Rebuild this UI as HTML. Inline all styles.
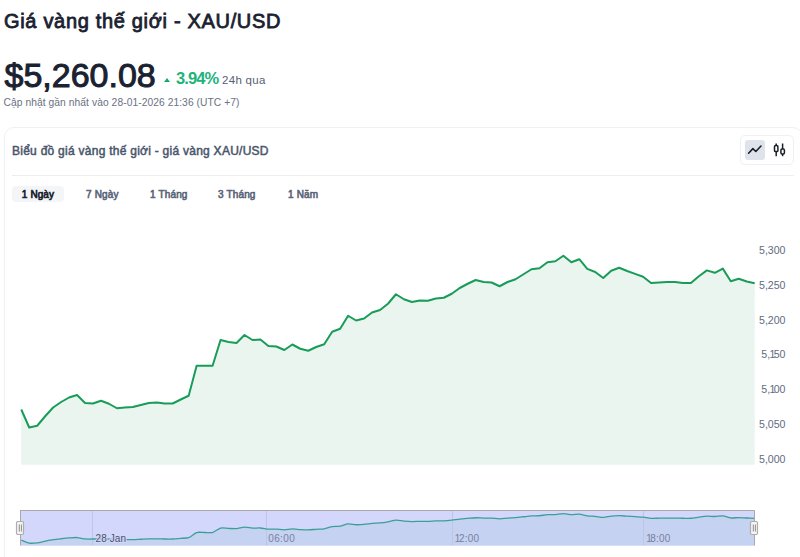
<!DOCTYPE html>
<html><head><meta charset="utf-8">
<style>
*{margin:0;padding:0;box-sizing:border-box}
html,body{width:800px;height:557px;overflow:hidden;background:#fff}
body{position:relative;font-family:"Liberation Sans",sans-serif;color:#1b2030}
.abs{position:absolute;white-space:nowrap}
#title{left:4px;top:9px;font-size:20px;letter-spacing:0.68px;-webkit-text-stroke:0.8px #1a2130;color:#1a2130;line-height:24px}
#price{left:4.5px;top:54.5px;font-size:34px;-webkit-text-stroke:1px #1a2130;color:#1a2130;line-height:40px}
#tri{left:163.6px;top:78.3px;width:0;height:0;border-left:3.8px solid transparent;border-right:3.8px solid transparent;border-bottom:4.5px solid #18a868}
#pct{left:176px;top:69px;font-size:16.5px;letter-spacing:-0.9px;font-weight:bold;color:#1db47c;line-height:18px}
#h24{left:222px;top:74.4px;font-size:11.5px;letter-spacing:0.3px;color:#566074;line-height:12px}
#upd{left:3.5px;top:96.5px;font-size:10.25px;letter-spacing:0.07px;color:#6a7282;line-height:12px}
#card{left:4px;top:127px;width:799px;height:460px;border:1px solid #eef0f4;border-radius:10px}
#ctitle{left:12px;top:143.5px;font-size:12px;letter-spacing:0.26px;-webkit-text-stroke:0.5px #4a566c;color:#4a566c;line-height:14px}
#sep{left:12px;top:175px;width:782px;height:1px;background:#eceef4}
#icons{left:740px;top:135px;width:54px;height:30px;border:1px solid #eef0f4;border-radius:5px}
#act{left:745px;top:139.5px;width:20px;height:20.5px;background:#dfe3ec;border-radius:3px}
.tab{position:absolute;top:186px;height:16px;font-size:10px;-webkit-text-stroke:0.6px #5a6478;letter-spacing:0.15px;line-height:18px;color:#5a6478;white-space:nowrap}
#t1{left:12px;width:52px;background:#f4f5f7;border-radius:4px;color:#1a2130;-webkit-text-stroke:0.7px #1a2130;text-align:center;letter-spacing:0.1px}
.ylab{position:absolute;right:14.5px;text-align:right;font-size:10.6px;color:#616c82;line-height:12px}
.xlab{position:absolute;top:532px;font-size:10.5px;color:#7b809e;line-height:12px}
</style></head><body>
<div id="title" class="abs">Giá vàng thế giới - XAU/USD</div>
<div id="price" class="abs">$5,260.08</div>
<div id="tri" class="abs"></div>
<div id="pct" class="abs">3.94%</div>
<div id="h24" class="abs">24h qua</div>
<div id="upd" class="abs">Cập nhật gần nhất vào 28-01-2026 21:36 (UTC +7)</div>
<div id="card" class="abs"></div>
<div id="ctitle" class="abs">Biểu đồ giá vàng thế giới - giá vàng XAU/USD</div>
<div id="sep" class="abs"></div>
<div id="icons" class="abs"></div>
<div id="act" class="abs"></div>
<svg class="abs" style="left:0;top:0" width="800" height="557" viewBox="0 0 800 557">
  <path d="M748.6 153.2 L752.9 148.6 L755.8 151.5 L761 146" fill="none" stroke="#1b1f28" stroke-width="1.6" stroke-linecap="round" stroke-linejoin="round"/>
  <g fill="none" stroke="#1b1f28" stroke-width="1.5">
    <line x1="776.2" y1="143.5" x2="776.2" y2="156.2"/>
    <rect x="774.5" y="145.6" width="3.4" height="6" rx="1.1" fill="#fff"/>
    <line x1="782.6" y1="143.5" x2="782.6" y2="156.2"/>
    <rect x="780.9" y="149.1" width="3.5" height="4.8" rx="1.1" fill="#fff"/>
  </g>
</svg>
<div class="tab" id="t1">1 Ngày</div>
<div class="tab" style="left:86px">7 Ngày</div>
<div class="tab" style="left:150px">1 Tháng</div>
<div class="tab" style="left:218px">3 Tháng</div>
<div class="tab" style="left:288px">1 Năm</div>
<svg class="abs" style="left:0;top:0" width="800" height="557" viewBox="0 0 800 557">
  <path d="M21.25 409.50 L29.22 427.50 L37.19 425.75 L45.17 416.25 L53.14 407.50 L61.11 402.00 L69.08 397.50 L77.06 395.00 L85.03 403.00 L93.00 403.50 L100.97 400.75 L108.95 403.75 L116.92 408.25 L124.89 407.50 L132.86 407.00 L140.83 405.00 L148.81 403.00 L156.78 402.50 L164.75 403.50 L172.72 403.50 L180.70 399.50 L188.67 395.75 L196.64 365.75 L204.61 365.75 L212.58 365.75 L220.56 340.00 L228.53 342.00 L236.50 343.00 L244.47 335.00 L252.45 340.00 L260.42 339.50 L268.39 346.00 L276.36 346.50 L284.34 350.00 L292.31 344.50 L300.28 348.75 L308.25 350.75 L316.22 347.00 L324.20 344.25 L332.17 331.75 L340.14 328.75 L348.11 315.75 L356.09 320.50 L364.06 318.50 L372.03 312.50 L380.00 310.00 L387.98 303.75 L395.95 294.25 L403.92 299.25 L411.89 302.00 L419.86 300.50 L427.84 300.75 L435.81 298.50 L443.78 297.75 L451.75 293.75 L459.73 288.00 L467.70 283.75 L475.67 280.00 L483.64 282.00 L491.61 282.50 L499.59 286.25 L507.56 282.00 L515.53 279.25 L523.50 274.25 L531.48 269.25 L539.45 268.25 L547.42 262.25 L555.39 261.25 L563.37 255.75 L571.34 262.30 L579.31 259.20 L587.28 268.90 L595.25 272.00 L603.23 278.00 L611.20 270.70 L619.17 267.80 L627.14 271.00 L635.12 273.90 L643.09 276.70 L651.06 283.00 L659.03 282.50 L667.00 282.10 L674.98 282.10 L682.95 282.90 L690.92 282.90 L698.89 276.20 L706.87 270.40 L714.84 272.80 L722.81 268.60 L730.78 281.20 L738.76 278.80 L746.73 281.50 L754.70 283.30 L754.70 464.8 L21.25 464.8 Z" fill="#eaf5ef"/>
  <path d="M21.25 409.50 L29.22 427.50 L37.19 425.75 L45.17 416.25 L53.14 407.50 L61.11 402.00 L69.08 397.50 L77.06 395.00 L85.03 403.00 L93.00 403.50 L100.97 400.75 L108.95 403.75 L116.92 408.25 L124.89 407.50 L132.86 407.00 L140.83 405.00 L148.81 403.00 L156.78 402.50 L164.75 403.50 L172.72 403.50 L180.70 399.50 L188.67 395.75 L196.64 365.75 L204.61 365.75 L212.58 365.75 L220.56 340.00 L228.53 342.00 L236.50 343.00 L244.47 335.00 L252.45 340.00 L260.42 339.50 L268.39 346.00 L276.36 346.50 L284.34 350.00 L292.31 344.50 L300.28 348.75 L308.25 350.75 L316.22 347.00 L324.20 344.25 L332.17 331.75 L340.14 328.75 L348.11 315.75 L356.09 320.50 L364.06 318.50 L372.03 312.50 L380.00 310.00 L387.98 303.75 L395.95 294.25 L403.92 299.25 L411.89 302.00 L419.86 300.50 L427.84 300.75 L435.81 298.50 L443.78 297.75 L451.75 293.75 L459.73 288.00 L467.70 283.75 L475.67 280.00 L483.64 282.00 L491.61 282.50 L499.59 286.25 L507.56 282.00 L515.53 279.25 L523.50 274.25 L531.48 269.25 L539.45 268.25 L547.42 262.25 L555.39 261.25 L563.37 255.75 L571.34 262.30 L579.31 259.20 L587.28 268.90 L595.25 272.00 L603.23 278.00 L611.20 270.70 L619.17 267.80 L627.14 271.00 L635.12 273.90 L643.09 276.70 L651.06 283.00 L659.03 282.50 L667.00 282.10 L674.98 282.10 L682.95 282.90 L690.92 282.90 L698.89 276.20 L706.87 270.40 L714.84 272.80 L722.81 268.60 L730.78 281.20 L738.76 278.80 L746.73 281.50 L754.70 283.30" fill="none" stroke="#189c58" stroke-width="2" stroke-linejoin="round"/>
  <rect x="20" y="510.5" width="734.5" height="35" fill="#d3d7fb"/>
  <path d="M21.25 540.03 C22.21 540.41 27.31 542.79 29.22 543.13 C31.14 543.47 35.28 543.06 37.19 542.83 C39.11 542.60 43.25 541.57 45.17 541.20 C47.08 540.82 51.23 539.98 53.14 539.69 C55.05 539.40 59.20 538.95 61.11 538.74 C63.02 538.54 67.17 538.11 69.08 537.97 C71.00 537.83 75.14 537.43 77.06 537.54 C78.97 537.65 83.11 538.74 85.03 538.92 C86.94 539.09 91.09 539.05 93.00 539.00 C94.91 538.96 99.06 538.52 100.97 538.53 C102.89 538.53 107.03 538.89 108.95 539.05 C110.86 539.20 115.00 539.74 116.92 539.82 C118.83 539.90 122.98 539.72 124.89 539.69 C126.80 539.66 130.95 539.66 132.86 539.60 C134.78 539.55 138.92 539.34 140.83 539.26 C142.75 539.18 146.89 538.97 148.81 538.92 C150.72 538.86 154.87 538.82 156.78 538.83 C158.69 538.84 162.84 538.98 164.75 539.00 C166.66 539.02 170.81 539.08 172.72 539.00 C174.64 538.92 178.78 538.47 180.70 538.31 C182.61 538.15 186.75 538.37 188.67 537.67 C190.58 536.97 194.73 533.13 196.64 532.51 C198.55 531.89 202.70 532.51 204.61 532.51 C206.53 532.51 210.67 533.04 212.58 532.51 C214.50 531.98 218.64 528.57 220.56 528.08 C222.47 527.59 226.62 528.36 228.53 528.42 C230.44 528.49 234.59 528.74 236.50 528.60 C238.41 528.45 242.56 527.28 244.47 527.22 C246.39 527.16 250.53 527.99 252.45 528.08 C254.36 528.17 258.51 527.87 260.42 527.99 C262.33 528.12 266.48 528.97 268.39 529.11 C270.30 529.26 274.45 529.12 276.36 529.20 C278.28 529.28 282.42 529.84 284.34 529.80 C286.25 529.76 290.39 528.88 292.31 528.85 C294.22 528.83 298.37 529.46 300.28 529.59 C302.19 529.71 306.34 529.97 308.25 529.93 C310.17 529.89 314.31 529.42 316.22 529.28 C318.14 529.15 322.28 529.13 324.20 528.81 C326.11 528.50 330.26 526.98 332.17 526.66 C334.08 526.34 338.23 526.48 340.14 526.14 C342.05 525.81 346.20 524.08 348.11 523.91 C350.03 523.74 354.17 524.67 356.09 524.73 C358.00 524.78 362.14 524.55 364.06 524.38 C365.97 524.22 370.12 523.53 372.03 523.35 C373.94 523.17 378.09 523.10 380.00 522.92 C381.92 522.74 386.06 522.17 387.98 521.85 C389.89 521.52 394.03 520.30 395.95 520.21 C397.86 520.12 402.01 520.91 403.92 521.07 C405.83 521.23 409.98 521.52 411.89 521.54 C413.81 521.57 417.95 521.31 419.86 521.29 C421.78 521.26 425.92 521.37 427.84 521.33 C429.75 521.29 433.90 521.00 435.81 520.94 C437.72 520.88 441.87 520.91 443.78 520.81 C445.69 520.71 449.84 520.33 451.75 520.12 C453.67 519.92 457.81 519.34 459.73 519.14 C461.64 518.93 465.78 518.57 467.70 518.40 C469.61 518.24 473.76 517.80 475.67 517.76 C477.58 517.72 481.73 518.05 483.64 518.10 C485.56 518.16 489.70 518.10 491.61 518.19 C493.53 518.28 497.67 518.85 499.59 518.84 C501.50 518.82 505.65 518.25 507.56 518.10 C509.47 517.96 513.62 517.79 515.53 517.63 C517.44 517.47 521.59 516.98 523.50 516.77 C525.42 516.56 529.56 516.03 531.48 515.91 C533.39 515.79 537.54 515.88 539.45 515.74 C541.36 515.59 545.51 514.85 547.42 514.71 C549.33 514.56 553.48 514.67 555.39 514.53 C557.31 514.40 561.45 513.57 563.37 513.59 C565.28 513.61 569.42 514.64 571.34 514.72 C573.25 514.79 577.40 514.05 579.31 514.18 C581.22 514.32 585.37 515.59 587.28 515.85 C589.20 516.11 593.34 516.20 595.25 516.38 C597.17 516.57 601.31 517.44 603.23 517.42 C605.14 517.39 609.29 516.37 611.20 516.16 C613.11 515.95 617.26 515.66 619.17 515.66 C621.08 515.67 625.23 516.09 627.14 516.21 C629.06 516.34 633.20 516.59 635.12 516.71 C637.03 516.83 641.17 517.00 643.09 517.19 C645.00 517.38 649.15 518.16 651.06 518.28 C652.97 518.40 657.12 518.21 659.03 518.19 C660.95 518.17 665.09 518.13 667.00 518.12 C668.92 518.11 673.06 518.10 674.98 518.12 C676.89 518.14 681.04 518.24 682.95 518.26 C684.86 518.28 689.01 518.40 690.92 518.26 C692.84 518.12 696.98 517.36 698.89 517.11 C700.81 516.85 704.95 516.18 706.87 516.11 C708.78 516.04 712.93 516.56 714.84 516.52 C716.75 516.48 720.90 515.63 722.81 515.80 C724.72 515.97 728.87 517.76 730.78 517.97 C732.70 518.18 736.84 517.55 738.76 517.55 C740.67 517.56 744.81 517.93 746.73 518.02 C748.64 518.11 753.74 518.29 754.70 518.33 L754.70 545.5 L21.25 545.5 Z" fill="#c5d2f2"/>
  <line x1="92.5" y1="511" x2="92.5" y2="545.5" stroke="#c0c5e6" stroke-width="1"/>
  <line x1="266.5" y1="511" x2="266.5" y2="545.5" stroke="#c0c5e6" stroke-width="1"/>
  <line x1="452.5" y1="511" x2="452.5" y2="545.5" stroke="#c0c5e6" stroke-width="1"/>
  <line x1="643.5" y1="511" x2="643.5" y2="545.5" stroke="#c0c5e6" stroke-width="1"/>
  <path d="M21.25 540.03 C22.21 540.41 27.31 542.79 29.22 543.13 C31.14 543.47 35.28 543.06 37.19 542.83 C39.11 542.60 43.25 541.57 45.17 541.20 C47.08 540.82 51.23 539.98 53.14 539.69 C55.05 539.40 59.20 538.95 61.11 538.74 C63.02 538.54 67.17 538.11 69.08 537.97 C71.00 537.83 75.14 537.43 77.06 537.54 C78.97 537.65 83.11 538.74 85.03 538.92 C86.94 539.09 91.09 539.05 93.00 539.00 C94.91 538.96 99.06 538.52 100.97 538.53 C102.89 538.53 107.03 538.89 108.95 539.05 C110.86 539.20 115.00 539.74 116.92 539.82 C118.83 539.90 122.98 539.72 124.89 539.69 C126.80 539.66 130.95 539.66 132.86 539.60 C134.78 539.55 138.92 539.34 140.83 539.26 C142.75 539.18 146.89 538.97 148.81 538.92 C150.72 538.86 154.87 538.82 156.78 538.83 C158.69 538.84 162.84 538.98 164.75 539.00 C166.66 539.02 170.81 539.08 172.72 539.00 C174.64 538.92 178.78 538.47 180.70 538.31 C182.61 538.15 186.75 538.37 188.67 537.67 C190.58 536.97 194.73 533.13 196.64 532.51 C198.55 531.89 202.70 532.51 204.61 532.51 C206.53 532.51 210.67 533.04 212.58 532.51 C214.50 531.98 218.64 528.57 220.56 528.08 C222.47 527.59 226.62 528.36 228.53 528.42 C230.44 528.49 234.59 528.74 236.50 528.60 C238.41 528.45 242.56 527.28 244.47 527.22 C246.39 527.16 250.53 527.99 252.45 528.08 C254.36 528.17 258.51 527.87 260.42 527.99 C262.33 528.12 266.48 528.97 268.39 529.11 C270.30 529.26 274.45 529.12 276.36 529.20 C278.28 529.28 282.42 529.84 284.34 529.80 C286.25 529.76 290.39 528.88 292.31 528.85 C294.22 528.83 298.37 529.46 300.28 529.59 C302.19 529.71 306.34 529.97 308.25 529.93 C310.17 529.89 314.31 529.42 316.22 529.28 C318.14 529.15 322.28 529.13 324.20 528.81 C326.11 528.50 330.26 526.98 332.17 526.66 C334.08 526.34 338.23 526.48 340.14 526.14 C342.05 525.81 346.20 524.08 348.11 523.91 C350.03 523.74 354.17 524.67 356.09 524.73 C358.00 524.78 362.14 524.55 364.06 524.38 C365.97 524.22 370.12 523.53 372.03 523.35 C373.94 523.17 378.09 523.10 380.00 522.92 C381.92 522.74 386.06 522.17 387.98 521.85 C389.89 521.52 394.03 520.30 395.95 520.21 C397.86 520.12 402.01 520.91 403.92 521.07 C405.83 521.23 409.98 521.52 411.89 521.54 C413.81 521.57 417.95 521.31 419.86 521.29 C421.78 521.26 425.92 521.37 427.84 521.33 C429.75 521.29 433.90 521.00 435.81 520.94 C437.72 520.88 441.87 520.91 443.78 520.81 C445.69 520.71 449.84 520.33 451.75 520.12 C453.67 519.92 457.81 519.34 459.73 519.14 C461.64 518.93 465.78 518.57 467.70 518.40 C469.61 518.24 473.76 517.80 475.67 517.76 C477.58 517.72 481.73 518.05 483.64 518.10 C485.56 518.16 489.70 518.10 491.61 518.19 C493.53 518.28 497.67 518.85 499.59 518.84 C501.50 518.82 505.65 518.25 507.56 518.10 C509.47 517.96 513.62 517.79 515.53 517.63 C517.44 517.47 521.59 516.98 523.50 516.77 C525.42 516.56 529.56 516.03 531.48 515.91 C533.39 515.79 537.54 515.88 539.45 515.74 C541.36 515.59 545.51 514.85 547.42 514.71 C549.33 514.56 553.48 514.67 555.39 514.53 C557.31 514.40 561.45 513.57 563.37 513.59 C565.28 513.61 569.42 514.64 571.34 514.72 C573.25 514.79 577.40 514.05 579.31 514.18 C581.22 514.32 585.37 515.59 587.28 515.85 C589.20 516.11 593.34 516.20 595.25 516.38 C597.17 516.57 601.31 517.44 603.23 517.42 C605.14 517.39 609.29 516.37 611.20 516.16 C613.11 515.95 617.26 515.66 619.17 515.66 C621.08 515.67 625.23 516.09 627.14 516.21 C629.06 516.34 633.20 516.59 635.12 516.71 C637.03 516.83 641.17 517.00 643.09 517.19 C645.00 517.38 649.15 518.16 651.06 518.28 C652.97 518.40 657.12 518.21 659.03 518.19 C660.95 518.17 665.09 518.13 667.00 518.12 C668.92 518.11 673.06 518.10 674.98 518.12 C676.89 518.14 681.04 518.24 682.95 518.26 C684.86 518.28 689.01 518.40 690.92 518.26 C692.84 518.12 696.98 517.36 698.89 517.11 C700.81 516.85 704.95 516.18 706.87 516.11 C708.78 516.04 712.93 516.56 714.84 516.52 C716.75 516.48 720.90 515.63 722.81 515.80 C724.72 515.97 728.87 517.76 730.78 517.97 C732.70 518.18 736.84 517.55 738.76 517.55 C740.67 517.56 744.81 517.93 746.73 518.02 C748.64 518.11 753.74 518.29 754.70 518.33" fill="none" stroke="#3a9f95" stroke-width="1.3" stroke-linejoin="round"/>
  <line x1="20" y1="510.5" x2="754.5" y2="510.5" stroke="#a8a8a8" stroke-width="1"/>
  <line x1="20.5" y1="510.5" x2="20.5" y2="545.5" stroke="#a8a8a8" stroke-width="1"/>
  <line x1="754.5" y1="510.5" x2="754.5" y2="545.5" stroke="#a8a8a8" stroke-width="1"/>
  <g fill="#f3f3f3" stroke="#adadad" stroke-width="1.2">
    <rect x="16.5" y="521.5" width="7" height="13" rx="1.2"/>
    <rect x="750.5" y="521.5" width="7" height="13" rx="1.2"/>
  </g>
  <g stroke="#8f8f8f" stroke-width="1">
    <line x1="19.3" y1="524.5" x2="19.3" y2="531.5"/><line x1="21.4" y1="524.5" x2="21.4" y2="531.5"/>
    <line x1="753.3" y1="524.5" x2="753.3" y2="531.5"/><line x1="755.4" y1="524.5" x2="755.4" y2="531.5"/>
  </g>
</svg>
<div class="ylab" style="top:243.9px">5,300</div>
<div class="ylab" style="top:278.7px">5,250</div>
<div class="ylab" style="top:313.5px">5,200</div>
<div class="ylab" style="top:348.3px">5,<span style="margin-left:-0.8px;letter-spacing:-1.6px">1</span>50</div>
<div class="ylab" style="top:383.1px">5,<span style="margin-left:-0.8px;letter-spacing:-1.6px">1</span>00</div>
<div class="ylab" style="top:417.9px">5,050</div>
<div class="ylab" style="top:452.7px">5,000</div>
<svg class="abs" style="left:0;top:0" width="800" height="557" viewBox="0 0 800 557" font-family="Liberation Sans, sans-serif" font-size="10">
  <text x="95.5" y="542.2" fill="#4c5068" stroke="#d3d7fb" stroke-width="2" paint-order="stroke" stroke-linejoin="round" letter-spacing="0.1">28 Jan</text>
  <text x="268.3" y="542" fill="#7b809e" letter-spacing="0.35">06:00</text>
  <text x="454.8" y="542" fill="#7b809e" letter-spacing="0.2"><tspan dx="0">1</tspan><tspan dx="-1.6">2:00</tspan></text>
  <text x="646.2" y="542" fill="#7b809e" letter-spacing="0.2"><tspan dx="0">1</tspan><tspan dx="-1.6">8:00</tspan></text>
</svg>
</body></html>
